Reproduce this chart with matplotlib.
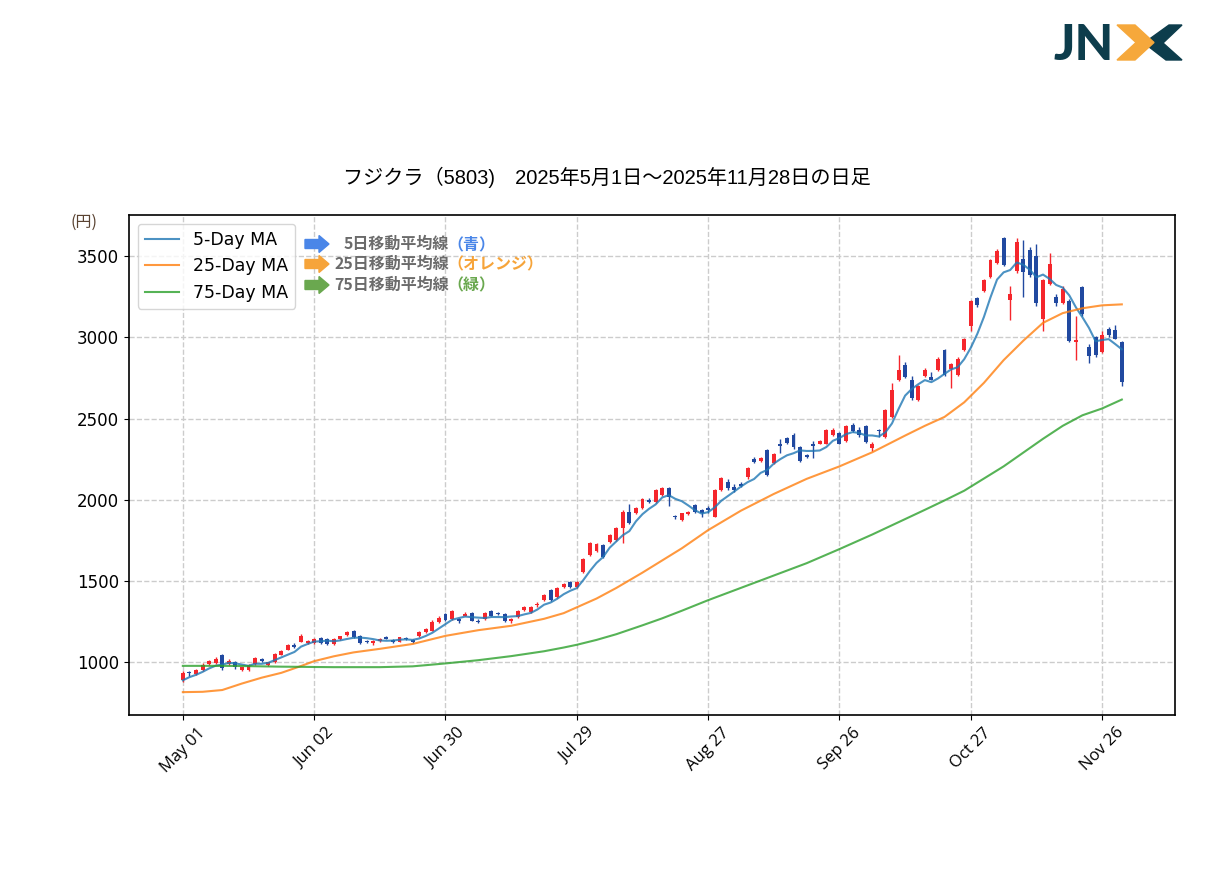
import numpy as np
import pandas as pd
import matplotlib
matplotlib.use('Agg')
import matplotlib.pyplot as plt
from matplotlib.patches import Polygon, FancyArrow

# trading-day data, May 01 - Nov 28 (index = trading day)
opens = [889, 936, 926, 951, 988, 990, 1043, 985, 996, 950,
         950, 985, 1016, 982, 996, 1045, 1074, 1103, 1125, 1118,
         1114, 1145, 1140, 1110, 1140, 1165, 1190, 1160, 1130, 1115,
         1130, 1152, 1137, 1125, 1146, 1133, 1160, 1183, 1193, 1248,
         1293, 1263, 1265, 1285, 1300, 1254, 1265, 1314, 1300, 1294,
         1253, 1276, 1317, 1307, 1348, 1381, 1443, 1402, 1463, 1494,
         1464, 1556, 1659, 1684, 1720, 1741, 1751, 1823, 1925, 1915,
         1946, 1995, 1987, 2029, 2069, 1898, 1874, 1910, 1966, 1935,
         1946, 1894, 2059, 2110, 2080, 2095, 2137, 2250, 2240, 2305,
         2223, 2340, 2377, 2397, 2322, 2275, 2340, 2345, 2346, 2397,
         2412, 2363, 2463, 2428, 2453, 2316, 2432, 2387, 2510, 2736,
         2829, 2736, 2613, 2761, 2757, 2798, 2921, 2808, 2767, 2920,
         3070, 3243, 3286, 3372, 3461, 3612, 3229, 3407, 3485, 3542,
         3501, 3112, 3332, 3250, 3215, 3224, 2970, 3311, 2940, 3000,
         2911, 3054, 3044, 2972]
highs = [945, 945, 958, 990, 1012, 1030, 1050, 1020, 1002, 970,
         985, 1030, 1022, 1000, 1055, 1070, 1112, 1115, 1170, 1135,
         1145, 1150, 1145, 1145, 1162, 1190, 1195, 1165, 1135, 1135,
         1148, 1158, 1140, 1155, 1150, 1138, 1192, 1208, 1255, 1280,
         1300, 1322, 1272, 1305, 1306, 1262, 1308, 1322, 1310, 1298,
         1270, 1320, 1345, 1345, 1368, 1420, 1450, 1460, 1486, 1500,
         1500, 1640, 1738, 1735, 1728, 1790, 1830, 1935, 1975, 1955,
         2010, 2010, 2065, 2075, 2075, 1905, 1920, 1930, 1975, 1945,
         1960, 2065, 2140, 2125, 2095, 2110, 2200, 2262, 2265, 2315,
         2287, 2375, 2385, 2410, 2330, 2280, 2360, 2368, 2435, 2440,
         2420, 2460, 2470, 2450, 2460, 2357, 2438, 2560, 2720, 2890,
         2850, 2760, 2705, 2810, 2790, 2878, 2930, 2845, 2880, 2995,
         3230, 3250, 3362, 3482, 3545, 3618, 3318, 3615, 3598, 3560,
         3577, 3360, 3520, 3265, 3320, 3235, 3130, 3318, 2960, 3010,
         3040, 3066, 3075, 2976]
lows = [875, 915, 920, 945, 982, 985, 950, 978, 958, 942,
        945, 978, 1000, 975, 990, 1040, 1070, 1085, 1120, 1112,
        1108, 1108, 1105, 1105, 1135, 1160, 1145, 1112, 1115, 1105,
        1125, 1138, 1118, 1120, 1133, 1115, 1155, 1178, 1188, 1242,
        1252, 1258, 1240, 1280, 1250, 1238, 1260, 1280, 1288, 1248,
        1238, 1270, 1312, 1302, 1340, 1376, 1376, 1396, 1458, 1458,
        1458, 1550, 1652, 1680, 1640, 1735, 1745, 1735, 1848, 1910,
        1940, 1980, 1980, 2025, 1960, 1880, 1870, 1905, 1918, 1895,
        1920, 1890, 2052, 2060, 2050, 2075, 2130, 2225, 2235, 2145,
        2218, 2290, 2340, 2315, 2232, 2255, 2255, 2340, 2340, 2390,
        2340, 2355, 2418, 2385, 2350, 2300, 2385, 2380, 2505, 2730,
        2750, 2615, 2608, 2755, 2735, 2792, 2760, 2690, 2760, 2915,
        3040, 3190, 3280, 3365, 3455, 3440, 3105, 3400, 3250, 3375,
        3195, 3040, 3325, 3195, 3205, 2970, 2860, 3130, 2840, 2880,
        2905, 3005, 2988, 2700]
closes = [934, 928, 951, 981, 1002, 1018, 960, 1008, 965, 965,
          978, 1024, 1006, 996, 1049, 1064, 1105, 1090, 1160, 1130,
          1139, 1114, 1110, 1140, 1158, 1182, 1150, 1117, 1122, 1128,
          1140, 1142, 1122, 1150, 1138, 1123, 1186, 1200, 1248, 1273,
          1259, 1316, 1252, 1295, 1254, 1246, 1302, 1285, 1292, 1253,
          1265, 1314, 1338, 1338, 1358, 1412, 1381, 1453, 1480, 1464,
          1494, 1632, 1731, 1727, 1645, 1782, 1823, 1925, 1854, 1946,
          2004, 1988, 2059, 2069, 2018, 1890, 1915, 1925, 1925, 1915,
          1935, 2059, 2131, 2069, 2060, 2085, 2192, 2230, 2258, 2151,
          2280, 2330, 2347, 2322, 2239, 2262, 2332, 2360, 2428, 2432,
          2346, 2453, 2423, 2400, 2357, 2345, 2422, 2551, 2675, 2802,
          2757, 2624, 2699, 2802, 2740, 2870, 2767, 2835, 2870, 2988,
          3222, 3198, 3354, 3475, 3536, 3444, 3270, 3587, 3403, 3382,
          3214, 3352, 3455, 3215, 3300, 2976, 2985, 3147, 2886, 2890,
          3013, 3013, 2993, 2726]
prev_closes = [830, 880, 890, 895]  # last 4 closes before May 01

# longer moving averages
ma_days = [0, 3, 6, 9, 12, 15, 18, 20, 23, 26, 30, 35, 40, 45, 50, 55, 58, 60, 63, 66,
           70, 73, 76, 80, 85, 90, 95, 100, 105, 110, 113, 116, 119, 122, 125, 128,
           131, 134, 137, 140, 143]
ma25 = [813, 815, 826, 866, 902, 932, 974, 1004, 1034, 1058, 1080, 1110, 1160, 1195, 1222,
        1265, 1300, 1336, 1390, 1455, 1550, 1625, 1700, 1812, 1932, 2035, 2128, 2205, 2292,
        2395, 2455, 2510, 2600, 2720, 2860, 2980, 3090, 3150, 3180, 3198, 3204]
ma75 = [975, 975, 975, 974, 972, 970, 969, 968, 967, 967, 967, 972, 990, 1010, 1035,
        1065, 1088, 1105, 1135, 1170, 1225, 1268, 1315, 1380, 1456, 1532, 1608, 1695, 1785,
        1880, 1937, 1995, 2055, 2130, 2205, 2290, 2375, 2455, 2520, 2562, 2617]

tick_days = [0, 20, 40, 60, 80, 100, 120, 140]
tick_labels = ['May 01', 'Jun 02', 'Jun 30', 'Jul 29', 'Aug 27', 'Sep 26', 'Oct 27', 'Nov 26']

W, H = 1213, 880
fig = plt.figure(figsize=(W/100, H/100), dpi=100)
ax = fig.add_axes([129/W, 1-715/H, (1175-129)/W, (715-215)/H])

def fpx(x, y):
    # pixel position -> figure fraction
    return x/W, 1 - y/H

o = np.array(opens); h = np.array(highs); l = np.array(lows); c = np.array(closes)
idx = np.arange(len(c))
up = c >= o
cols = np.where(up, '#f5262c', '#2149a0')

ax.vlines(idx, l, h, colors=cols, lw=1.0, zorder=2)
body = np.maximum(np.abs(c - o), 4)
ax.bar(idx, body, bottom=np.minimum(o, c), width=0.6, color=cols, zorder=2)

ma5 = pd.Series(prev_closes + closes).rolling(5).mean().iloc[4:].values
ax.plot(idx, ma5, color='C0', alpha=0.8, lw=1.5, label='5-Day MA', zorder=3)
ax.plot(ma_days, ma25, color='C1', alpha=0.8, lw=1.5, label='25-Day MA', zorder=3)
ax.plot(ma_days, ma75, color='C2', alpha=0.8, lw=1.5, label='75-Day MA', zorder=3)

ax.set_xlim(-8.2, 151.1)
ax.set_ylim(672, 3755)
ax.set_xticks(tick_days)
ax.set_xticklabels(tick_labels, rotation=45, fontsize=12, family='Open Sans')
ax.set_yticks([1000, 1500, 2000, 2500, 3000, 3500])
ax.tick_params(axis='y', labelsize=12)
ax.grid(True, ls='--', color='#cccccc', lw=1.0)
ax.set_axisbelow(True)
for s in ax.spines.values():
    s.set_linewidth(1.2)

ax.legend(loc='upper left', fontsize=12.5, framealpha=0.8)

jp = ['Liberation Sans', 'Noto Sans CJK JP']
fig.text(0.5, 1-177/H, 'フジクラ（5803)\u30002025年5月1日～2025年11月28日の日足',
         ha='center', va='center', fontsize=14.5, family=jp)
fig.text(*fpx(70, 222), '(円)', ha='left', va='center', fontsize=11.5,
         color='#5a4332', family=['Noto Sans CJK JP'])

# arrows with notes
notes = [('5日移動平均線', '（青）', '#4a86e8', 244),
         ('25日移動平均線', '（オレンジ）', '#f6a43a', 264),
         ('75日移動平均線', '（緑）', '#6aa84f', 285)]
for main, paren, col, yy in notes:
    x0, y0 = fpx(305, yy)
    ar = FancyArrow(x0, y0, 24/W, 0, width=9/H, head_width=17/H, head_length=10/W,
                    length_includes_head=True, color=col, transform=fig.transFigure)
    fig.patches.append(ar)
    fig.text(*fpx(449, yy), main, ha='right', va='center', fontsize=11.5,
             weight='bold', color='#6b6b6b', family=['Noto Sans CJK JP'])
    fig.text(*fpx(447, yy), paren, ha='left', va='center', fontsize=11.5,
             weight='bold', color=col, family=['Noto Sans CJK JP'])

# JNX logo
fig.text(*fpx(1053, 60), 'JN', ha='left', va='baseline', fontsize=36,
         weight='black', color='#0d3d4c', family='Lato')
dark = [(1169, 25), (1182, 25), (1163, 43), (1182, 60), (1166, 60), (1144, 43)]
chev = [(1117, 25), (1135, 25), (1154, 42.5), (1135, 60), (1117, 60), (1136, 42.5)]
fig.patches.append(Polygon([fpx(*p) for p in dark], closed=True, color='#0d3d4c',
                           transform=fig.transFigure))
fig.patches.append(Polygon([fpx(*p) for p in chev], closed=True, color='#f6a83b',
                           transform=fig.transFigure))

fig.savefig('out.png', dpi=100)
